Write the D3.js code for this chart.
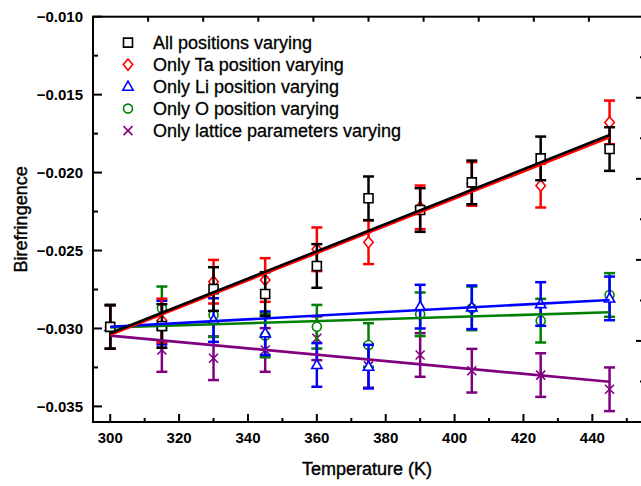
<!DOCTYPE html>
<html><head><meta charset="utf-8">
<script src="https://cdn.jsdelivr.net/npm/d3@7"></script>
<style>body{margin:0;background:#fff}svg{display:block}</style>
</head><body><svg id="c" width="641" height="486"></svg>
<script>
const temps = [300, 315, 330, 345, 360, 375, 390, 405, 425, 445];
const allPos   = [-0.0299, -0.02984, -0.02747, -0.02779, -0.02599, -0.02165, -0.02240, -0.02063, -0.01909, -0.01849];
const taPos    = [-0.0299, -0.02949, -0.02700, -0.02689, -0.02492, -0.02447, -0.02223, -0.02073, -0.02084, -0.01678];
const liPos    = [-0.0299, -0.02962, -0.02946, -0.03031, -0.03234, -0.03245, -0.02860, -0.02864, -0.02843, -0.02807];
const oPos     = [-0.0299, -0.02871, -0.02914, -0.03045, -0.02989, -0.03106, -0.02909, -0.02871, -0.02950, -0.02785];
const lattice  = [-0.0299, -0.03138, -0.03191, -0.03138, -0.03063, -0.03240, -0.03170, -0.03271, -0.03299, -0.03390];
const errAll = 0.0014;
// linear fit lines: value at first and last temperature
const fitAll = [-0.03031, -0.01759];
const fitTa  = [-0.03040, -0.01774];
const fitLi  = [-0.02989, -0.02817];
const fitO   = [-0.02993, -0.02896];
const fitLat = [-0.03046, -0.03342];
const xTicks = [300, 320, 340, 360, 380, 400, 420, 440];
const yTicks = [-0.010, -0.015, -0.020, -0.025, -0.030, -0.035];
const names = ["All positions varying", "Only Ta position varying", "Only Li position varying", "Only O position varying", "Only lattice parameters varying"];

const series = [
  {name: names[0], vals: allPos, fit: fitAll, color: "#000000", sym: "square"},
  {name: names[1], vals: taPos, fit: fitTa, color: "#ff0000", sym: "diamond"},
  {name: names[2], vals: liPos, fit: fitLi, color: "#0000ff", sym: "triangle"},
  {name: names[3], vals: oPos, fit: fitO, color: "#008000", sym: "circle"},
  {name: names[4], vals: lattice, fit: fitLat, color: "#800080", sym: "cross"}
];

const L = 93, R = 644, T = 16.7, B = 422;
const svg = d3.select("#c");
const x = d3.scaleLinear().domain([295, 455]).range([L, R]);
const y = d3.scaleLinear().domain([-0.036, -0.010]).range([B, T]);
const font = "'Liberation Sans', Arial, sans-serif";

function symPath(sym, s) {
  const h = s / 2;
  if (sym === "square") return `M${-h},${-h}H${h}V${h}H${-h}Z`;
  if (sym === "diamond") return `M0,${-h*1.25}L${h*1.05},0L0,${h*1.25}L${-h*1.05},0Z`;
  if (sym === "triangle") return `M0,${-h*1.2}L${h*1.15},${h*0.8}L${-h*1.15},${h*0.8}Z`;
  if (sym === "circle") return d3.arc()({innerRadius:0, outerRadius:h, startAngle:0, endAngle:2*Math.PI});
  if (sym === "cross") return `M${-h},${-h}L${h},${h}M${h},${-h}L${-h},${h}`;
}

// markers & error bars (drawn bottom to top: lattice, O, Li, Ta, All)
const order = [4, 3, 2, 1, 0];
const gM = svg.append("g");
order.forEach(i => {
  const s = series[i];
  const g = gM.append("g");
  temps.forEach((t, j) => {
    const v = s.vals[j];
    const cx = x(t), y1 = y(v + errAll), y2 = y(v - errAll);
    g.append("line").attr("x1", cx).attr("x2", cx).attr("y1", y1).attr("y2", y2)
      .attr("stroke", s.color).attr("stroke-width", 2.5);
    [y1, y2].forEach(yy => g.append("line").attr("x1", cx - 5.5).attr("x2", cx + 5.5)
      .attr("y1", yy).attr("y2", yy).attr("stroke", s.color).attr("stroke-width", 2.5));
    g.append("path").attr("d", symPath(s.sym, 9)).attr("transform", `translate(${cx},${y(v)})`)
      .attr("fill", s.sym === "cross" ? "none" : "#fff").attr("stroke", s.color).attr("stroke-width", 1.6);
  });
});

// fit lines
order.forEach(i => {
  const s = series[i];
  svg.append("line").attr("x1", x(temps[0])).attr("x2", x(temps[temps.length - 1]))
    .attr("y1", y(s.fit[0])).attr("y2", y(s.fit[1]))
    .attr("stroke", s.color).attr("stroke-width", 2.6);
});

// frame
svg.append("rect").attr("x", L).attr("y", T).attr("width", R - L).attr("height", B - T)
  .attr("fill", "none").attr("stroke", "#000").attr("stroke-width", 2);

// bottom axis ticks (inward)
const xMinor = d3.range(310, 455, 20);
xTicks.forEach(t => svg.append("line").attr("x1", x(t)).attr("x2", x(t)).attr("y1", B).attr("y2", B - 8).attr("stroke", "#000").attr("stroke-width", 2));
xMinor.forEach(t => svg.append("line").attr("x1", x(t)).attr("x2", x(t)).attr("y1", B).attr("y2", B - 4).attr("stroke", "#000").attr("stroke-width", 2));
svg.append("g").selectAll("text").data(xTicks).join("text")
  .attr("x", d => x(d)).attr("y", 443).attr("text-anchor", "middle")
  .attr("font-family", font).attr("font-size", 15).attr("font-weight", "bold").text(d => d);

// left axis ticks (inward)
const yMinor = d3.range(-0.0125, -0.036, -0.005);
yTicks.forEach(v => svg.append("line").attr("x1", L).attr("x2", L + 9).attr("y1", y(v)).attr("y2", y(v)).attr("stroke", "#000").attr("stroke-width", 2));
yMinor.forEach(v => svg.append("line").attr("x1", L).attr("x2", L + 5).attr("y1", y(v)).attr("y2", y(v)).attr("stroke", "#000").attr("stroke-width", 2));
svg.append("g").selectAll("text").data(yTicks).join("text")
  .attr("x", 83).attr("y", d => y(d)).attr("dy", "0.36em").attr("text-anchor", "end")
  .attr("font-family", font).attr("font-size", 15).attr("font-weight", "bold").text(d => d3.format(".3f")(d));

// top axis ticks (secondary, unlabeled)
const xTop = d3.scaleLinear().domain([0, 10]).range([L, R]);
d3.range(1, 10).forEach(k => svg.append("line").attr("x1", xTop(k)).attr("x2", xTop(k)).attr("y1", T).attr("y2", T + 5).attr("stroke", "#000").attr("stroke-width", 2));
// right axis ticks (secondary, unlabeled)
const yR = d3.scaleLinear().domain([0, 10]).range([B, T]);
d3.range(1, 10).forEach(k => svg.append("line").attr("x1", R).attr("x2", R - (k % 2 === 0 ? 8 : 4)).attr("y1", yR(k)).attr("y2", yR(k)).attr("stroke", "#000").attr("stroke-width", 2));

// axis titles
svg.append("text").attr("x", 367).attr("y", 475).attr("text-anchor", "middle")
  .attr("font-family", font).attr("font-size", 18).attr("stroke", "#000").attr("stroke-width", 0.4).text("Temperature (K)");
svg.append("text").attr("transform", `translate(27,${(T + B) / 2}) rotate(-90)`).attr("text-anchor", "middle")
  .attr("font-family", font).attr("font-size", 18).attr("stroke", "#000").attr("stroke-width", 0.4).text("Birefringence");

// legend
const lg = svg.append("g");
series.forEach((s, i) => {
  const ly = 42.6 + i * 22;
  lg.append("path").attr("d", symPath(s.sym, 9)).attr("transform", `translate(128,${ly})`)
    .attr("fill", s.sym === "cross" ? "none" : "#fff").attr("stroke", s.color).attr("stroke-width", 1.6);
  lg.append("text").attr("x", 153).attr("y", ly).attr("dy", "0.36em")
    .attr("font-family", font).attr("font-size", 18).attr("stroke", "#000").attr("stroke-width", 0.3).text(s.name);
});
</script></body></html>
